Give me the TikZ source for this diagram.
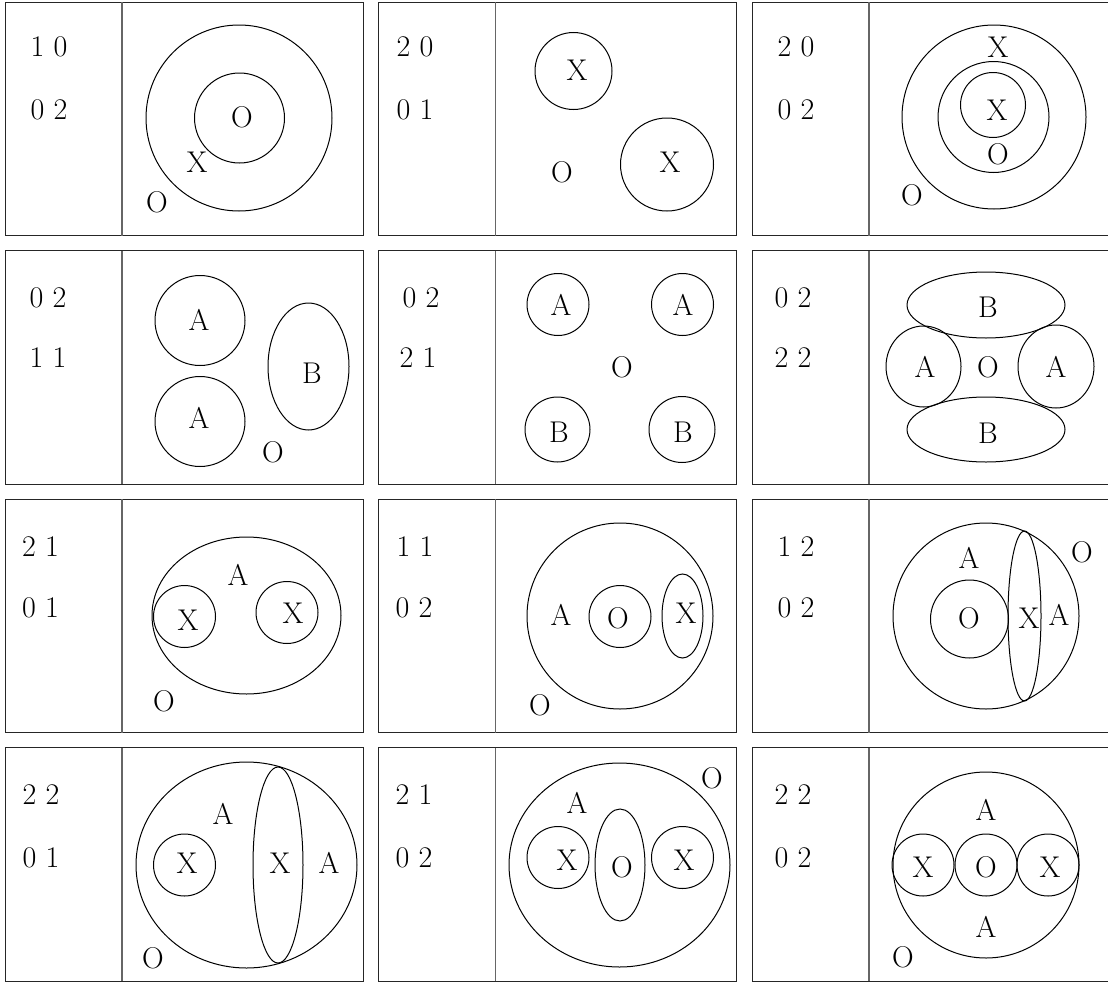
\documentclass[tikz,border=0pt]{standalone}
\begin{document}
\begin{tikzpicture}[
    x=0.5pt, y=-0.5pt,
    every node/.style={font=\fontsize{15}{18}\selectfont, inner sep=0pt},
    frame/.style={draw=black!85, line width=0.5pt},
    divider/.style={draw=black!60, line width=0.7pt},
    ring/.style={draw=black, line width=0.5pt}
]
\useasboundingbox (0,0) rectangle (1108,985);

% panel frames and dividers
\foreach \x in {5,378.5,752}
  \foreach \y in {2,250.5,499,747.5} {
    \draw[frame] (\x,\y) rectangle ++(358,233.5);
    \draw[divider] (\x+117,\y) -- ++(0,233.5);
  }

% row 1
\node (m1a) at (49,47) {1 0};   \node (m1b) at (49,110) {0 2};
\draw[ring] (239,118) circle (93);
\draw[ring] (239.5,118) circle (45);
\node (p1o) at (242,117) {O}; \node (p1x) at (197,162) {X}; \node (p1out) at (157,202) {O};

\node (m2a) at (415,47) {2 0};  \node (m2b) at (415,110) {0 1};
\draw[ring] (573.5,71) circle (38.5);
\draw[ring] (667,164.5) circle (46.5);
\node (p2x1) at (577,70) {X}; \node (p2x2) at (670,162) {X}; \node (p2out) at (562,172) {O};

\node (m3a) at (796,47) {2 0};  \node (m3b) at (796,110) {0 2};
\draw[ring] (994,117) circle (92);
\draw[ring] (993.5,117) circle (55.5);
\draw[ring] (993,105) circle (32.5);
\node (p3x1) at (998,47) {X}; \node (p3x2) at (997,110) {X};
\node (p3o) at (998,154) {O}; \node (p3out) at (912,195) {O};

% row 2
\node (m4a) at (48,298) {0 2};  \node (m4b) at (48,358) {1 1};
\draw[ring] (200,320.5) circle (45);
\draw[ring] (200,421.5) circle (45);
\draw[ring] (308.5,366.5) ellipse (40.5 and 63.5);
\node (p4a1) at (199,320) {A}; \node (p4a2) at (199,418) {A};
\node (p4b) at (312,373) {B};  \node (p4out) at (273,452) {O};

\node (m5a) at (421,298) {0 2}; \node (m5b) at (418,358) {2 1};
\draw[ring] (558,304.5) circle (31);
\draw[ring] (682.5,304.5) circle (31);
\draw[ring] (557.5,429.5) circle (32.5);
\draw[ring] (682,429.5) circle (33);
\node (p5a1) at (561,305) {A}; \node (p5a2) at (683,305) {A};
\node (p5out) at (622,367) {O};
\node (p5b1) at (559,432) {B}; \node (p5b2) at (683,432) {B};

\node (m6a) at (793,298) {0 2}; \node (m6b) at (793,358) {2 2};
\draw[ring] (986,305) ellipse (79 and 33);
\draw[ring] (923.5,366.5) ellipse (37.5 and 40.5);
\draw[ring] (1056,366.5) ellipse (38 and 41.5);
\draw[ring] (986,429.5) ellipse (79 and 32.5);
\node (p6b1) at (988,307) {B}; \node (p6a1) at (925,367) {A};
\node (p6out) at (988,367) {O}; \node (p6a2) at (1056,367) {A};
\node (p6b2) at (988,433) {B};

% row 3
\node (m7a) at (40.5,547) {2 1}; \node (m7b) at (40.5,608) {0 1};
\draw[ring] (246.5,615.5) ellipse (94.5 and 78.5);
\draw[ring] (184.5,616.5) circle (31);
\draw[ring] (287,612.5) circle (31);
\node (p7x1) at (188,620) {X}; \node (p7x2) at (293,613) {X};
\node (p7a) at (238,575) {A};  \node (p7out) at (164,701) {O};

\node (m8a) at (415,547) {1 1}; \node (m8b) at (414,608) {0 2};
\draw[ring] (620,616) circle (93);
\draw[ring] (620,616.5) circle (31);
\draw[ring] (682.5,616) ellipse (20.5 and 42);
\node (p8o) at (618,618) {O}; \node (p8x) at (686,613) {X};
\node (p8a) at (561,615) {A}; \node (p8out) at (540,705) {O};

\node (m9a) at (796,547) {1 2}; \node (m9b) at (796,608) {0 2};
\draw[ring] (986,616) circle (93);
\draw[ring] (969.5,619) circle (39);
\draw[ring] (1024.5,616) ellipse (16.5 and 85);
\node (p9o) at (969,618) {O}; \node (p9x) at (1029,618) {X};
\node (p9a1) at (1059,615) {A}; \node (p9a2) at (969,558) {A};
\node (p9out) at (1082,552) {O};

% row 4
\node (m10a) at (41,795) {2 2}; \node (m10b) at (41,858) {0 1};
\draw[ring] (246.5,865) ellipse (110.5 and 103);
\draw[ring] (184.5,865) circle (31);
\draw[ring] (278,865) ellipse (25 and 98);
\node (p10x1) at (187,863) {X}; \node (p10x2) at (280,863) {X};
\node (p10a1) at (329,863) {A}; \node (p10a2) at (223,814) {A};
\node (p10out) at (153,958) {O};

\node (m11a) at (414,795) {2 1}; \node (m11b) at (414,858) {0 2};
\draw[ring] (619.5,865) ellipse (110.5 and 102);
\draw[ring] (558,857.5) circle (31);
\draw[ring] (620,865) ellipse (25 and 56);
\draw[ring] (682.5,857.5) circle (31);
\node (p11x1) at (567,860) {X}; \node (p11o) at (622,867) {O};
\node (p11x2) at (684,860) {X}; \node (p11a) at (577,803) {A};
\node (p11out) at (712,778) {O};

\node (m12a) at (793,795) {2 2}; \node (m12b) at (793,858) {0 2};
\draw[ring] (986,865) circle (93);
\draw[ring] (923,865) circle (31);
\draw[ring] (986,865) circle (31);
\draw[ring] (1048,865) circle (31);
\node (p12x1) at (923,867) {X}; \node (p12o) at (986,867) {O};
\node (p12x2) at (1050,867) {X};
\node (p12a1) at (986,810) {A}; \node (p12a2) at (986,927) {A};
\node (p12out) at (903,957) {O};

\end{tikzpicture}
\end{document}
